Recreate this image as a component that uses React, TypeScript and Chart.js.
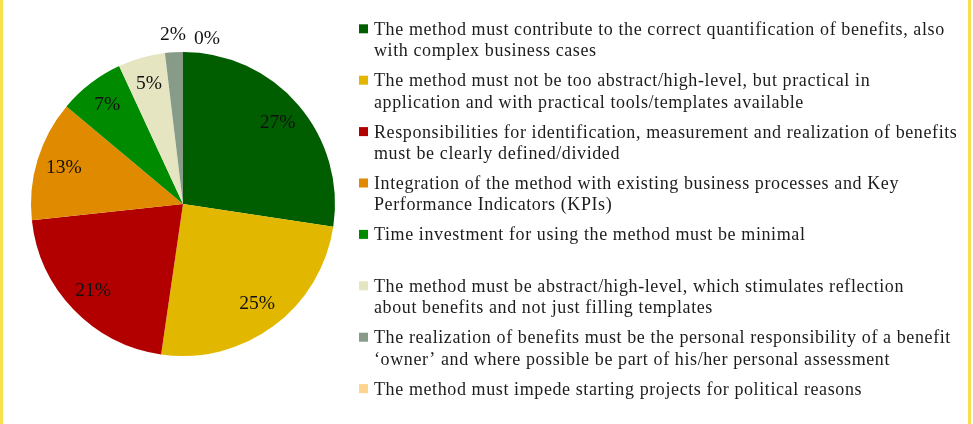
import { useEffect, useRef } from "react";
import { Chart, registerables } from "chart.js";

Chart.register(...registerables);

// ---- data ----
const categories: string[][] = [
  ["The method must contribute to the correct quantification of benefits, also", "with complex business cases"],
  ["The method must not be too abstract/high-level, but practical in", "application and with practical tools/templates available"],
  ["Responsibilities for identification, measurement and realization of benefits", "must be clearly defined/divided"],
  ["Integration of the method with existing business processes and Key", "Performance Indicators (KPIs)"],
  ["Time investment for using the method must be minimal", ""],
  ["The method must be abstract/high-level, which stimulates reflection", "about benefits and not just filling templates"],
  ["The realization of benefits must be the personal responsibility of a benefit", "\u2018owner\u2019 and where possible be part of his/her personal assessment"],
  ["The method must impede starting projects for political reasons"],
];
const shares: number[] = [27.4, 24.9, 21.0, 12.8, 7.0, 5.0, 1.9, 0];
const sliceColors: string[] = ["#005E00", "#E2B700", "#B20000", "#E08A00", "#008A00", "#E5E5C1", "#879B88", "#FFD48C"];

// ---- styles ----
const LEGEND_FONT = '"Liberation Serif", "Times New Roman", serif';
const LABEL_FONT = '"Liberation Serif", "Times New Roman", serif';
const TEXT_COLOR = "#1c1c1c";
const LEGEND_BOX_X = 359;
const LEGEND_BOX = 9;
const LEGEND_TEXT_X = 374;
const LEGEND_TOP = 28.8;
const LEGEND_LINE = 21.5;
const LEGEND_PAD = 8.4;
const LEGEND_SIZE = 18;
const LEGEND_FIRST_LINE_WIDTH = 571; // width of the first legend line in the reference
const BORDER_COLOR = "#F6E04C";

const sideLegend = {
  id: "sideLegend",
  afterDraw(chart: any) {
    const ctx = chart.ctx as CanvasRenderingContext2D;
    ctx.save();
    // frame lines
    ctx.fillStyle = BORDER_COLOR;
    ctx.fillRect(0, 0, 3, chart.height);
    ctx.fillRect(968, 0, 3, chart.height);

    const labels = chart.data.labels as string[][];
    (ctx as any).letterSpacing = "0px";
    ctx.font = `${LEGEND_SIZE}px ${LEGEND_FONT}`;
    const w = ctx.measureText(labels[0][0]).width;
    const spacing = Math.max(0, (LEGEND_FIRST_LINE_WIDTH - w) / labels[0][0].length);
    (ctx as any).letterSpacing = `${spacing.toFixed(2)}px`;
    ctx.textBaseline = "alphabetic";
    ctx.textAlign = "left";
    const colors = chart.data.datasets[0].backgroundColor as string[];
    let cy = LEGEND_TOP;
    labels.forEach((lines, i) => {
      ctx.fillStyle = colors[i];
      ctx.fillRect(LEGEND_BOX_X, cy - LEGEND_BOX / 2, LEGEND_BOX, LEGEND_BOX);
      ctx.fillStyle = TEXT_COLOR;
      lines.forEach((l, j) => {
        ctx.fillText(l, LEGEND_TEXT_X, cy + 5.9 + j * LEGEND_LINE);
      });
      cy += lines.length * LEGEND_LINE + LEGEND_PAD;
    });
    (ctx as any).letterSpacing = "0px";
    ctx.restore();
  },
};

const pieLabels = {
  id: "pieLabels",
  afterDatasetsDraw(chart: any) {
    const ctx = chart.ctx as CanvasRenderingContext2D;
    const meta = chart.getDatasetMeta(0);
    const data = chart.data.datasets[0].data as number[];
    const total = data.reduce((a, b) => a + b, 0);
    ctx.save();
    (ctx as any).letterSpacing = "0px";
    ctx.font = `19.5px ${LABEL_FONT}`;
    ctx.fillStyle = "#111";
    ctx.textAlign = "center";
    ctx.textBaseline = "middle";
    let prevOuter: { right: number } | null = null;
    meta.data.forEach((arc: any, i: number) => {
      const { x, y, startAngle, endAngle, outerRadius } = arc.getProps(
        ["x", "y", "startAngle", "endAngle", "outerRadius"],
        true
      );
      const frac = data[i] / total;
      const txt = Math.round(frac * 100) + "%";
      const mid = (startAngle + endAngle) / 2;
      const w = ctx.measureText(txt).width;
      if (frac >= 0.03) {
        const r = outerRadius * 0.82;
        ctx.fillText(txt, x + Math.cos(mid) * r, y + Math.sin(mid) * r);
      } else {
        const r = outerRadius + 17;
        let lx = x + Math.cos(mid) * r;
        let ly = y + Math.sin(mid) * r;
        if (prevOuter && lx - w / 2 < prevOuter.right + 8) {
          lx = prevOuter.right + 8 + w / 2;
          ly += 4;
        }
        ctx.fillText(txt, lx, ly);
        prevOuter = { right: lx + w / 2 };
      }
    });
    ctx.restore();
  },
};

export default function App() {
  const ref = useRef<HTMLCanvasElement | null>(null);
  useEffect(() => {
    document.body.style.margin = "0";
    const canvas = ref.current!;
    const chart = new Chart(canvas, {
      type: "pie",
      data: {
        labels: categories as any,
        datasets: [
          {
            data: shares,
            backgroundColor: sliceColors,
            borderWidth: 0,
          },
        ],
      },
      options: {
        animation: false,
        responsive: false,
        devicePixelRatio: 1,
        layout: { padding: { left: 31, top: 52, right: 638, bottom: 68 } },
        plugins: {
          legend: { display: false },
          tooltip: { enabled: false },
        },
      },
      plugins: [pieLabels, sideLegend],
    });
    return () => chart.destroy();
  }, []);
  return (
    <div style={{ width: 973, height: 424, background: "#fff" }}>
      <canvas ref={ref} width={973} height={424} style={{ display: "block" }} />
    </div>
  );
}
